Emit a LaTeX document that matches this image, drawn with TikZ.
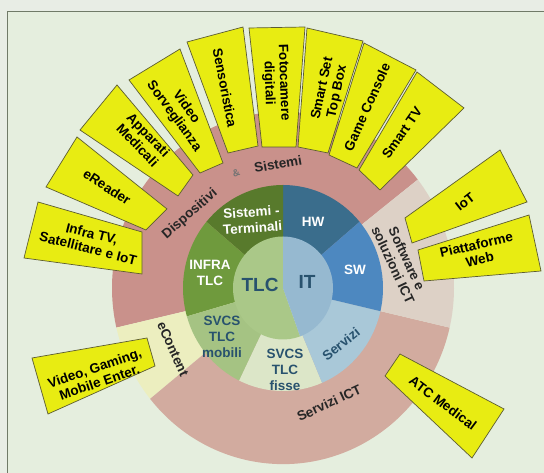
\documentclass[tikz,border=0pt]{standalone}
\usepackage{fontspec}
\setmainfont{Liberation Sans}
\usepackage{xcolor}
\usepackage{tikz}
\usetikzlibrary{positioning,calc}
\definecolor{outerbg}{RGB}{232,237,229}
\definecolor{pagebg}{RGB}{229,238,222}
\definecolor{framegray}{RGB}{112,122,104}
\definecolor{boxyellow}{RGB}{232,236,18}
\definecolor{boxedge}{RGB}{92,92,50}
\definecolor{dispPink}{RGB}{201,145,139}
\definecolor{servPink}{RGB}{210,171,159}
\definecolor{softBeige}{RGB}{221,209,198}
\definecolor{contYellow}{RGB}{236,238,191}
\definecolor{termGreen}{RGB}{88,122,44}
\definecolor{infraGreen}{RGB}{111,154,61}
\definecolor{mobGreen}{RGB}{165,195,131}
\definecolor{fisseGreen}{RGB}{220,230,200}
\definecolor{tlcGreen}{RGB}{170,200,136}
\definecolor{hwBlue}{RGB}{58,109,140}
\definecolor{swBlue}{RGB}{77,136,192}
\definecolor{servBlue}{RGB}{169,200,216}
\definecolor{itBlue}{RGB}{150,185,208}
\definecolor{txtBlue}{RGB}{40,82,110}
\newcommand{\ringsector}[4]{\fill[#1] (0,0) -- (#2:#4) arc[start angle=#2,end angle=#3,radius=#4] -- cycle;}

\begin{document}
\begin{tikzpicture}[x=1pt,y=1pt,
    box/.style={fill=boxyellow,draw=boxedge,line width=0.7pt},
    boxlbl/.style={font=\fontsize{13.5}{15}\selectfont\bfseries,align=center,inner sep=0pt,text=black},
    ringlbl/.style={font=\fontsize{13.5}{15}\selectfont\bfseries,align=center,inner sep=0pt,text=black!85},
    seclbl/.style={font=\fontsize{13.5}{16}\selectfont\bfseries,align=center,inner sep=0pt,text=white},
    seclbldark/.style={seclbl,text=txtBlue},
    corelbl/.style={font=\fontsize{19}{20}\selectfont\bfseries,inner sep=0pt,text=txtBlue}
  ]
  \useasboundingbox (0,0) rectangle (544,473);
  \clip (0,0) rectangle (544,473);
  \fill[outerbg] (0,0) rectangle (544,473);
  \fill[pagebg] (7.5,0) rectangle (544,461.5);
  \draw[framegray,line width=1.4pt] (7.5,-2) -- (7.5,461.5) -- (546,461.5);

  \begin{scope}[shift={(283,185)},yscale=1.03]
    \ringsector{dispPink}{38}{193}{171}
    \ringsector{contYellow}{193}{219}{171}
    \ringsector{servPink}{219}{347}{171}
    \ringsector{softBeige}{347}{398}{171}
    \ringsector{hwBlue}{40}{90}{100}
    \ringsector{termGreen}{90}{140}{100}
    \ringsector{infraGreen}{140}{196}{100}
    \ringsector{mobGreen}{196}{244}{100}
    \ringsector{fisseGreen}{244}{293}{100}
    \ringsector{servBlue}{293}{347}{100}
    \ringsector{swBlue}{347}{400}{100}
    \ringsector{tlcGreen}{90}{290}{50}
    \ringsector{itBlue}{290}{450}{50}
  \end{scope}

  \draw[box] (38,271) -- (142,241) -- (142,199) -- (24,215) -- cycle;
  \draw[box] (46,286) -- (77,336) -- (167,264) -- (146,243) -- cycle;
  \draw[box] (80,343) -- (117,388) -- (193,298) -- (178,277) -- cycle;
  \draw[box] (129,393) -- (180,424) -- (223,310) -- (200,300) -- cycle;
  \draw[box] (187,431) -- (243,446) -- (258,327) -- (228,320) -- cycle;
  \draw[box] (249,445) -- (305,446) -- (296,326) -- (262,326) -- cycle;
  \draw[box] (307,445) -- (363,432) -- (328,320) -- (298,326) -- cycle;
  \draw[box] (364,430) -- (416,403) -- (357,305) -- (329,318) -- cycle;
  \draw[box] (417,401) -- (464,365) -- (380,283) -- (359,303) -- cycle;
  \draw[box] (405,255) -- (500,323) -- (527,271) -- (412,230) -- cycle;
  \draw[box] (418,223) -- (529,258) -- (541,202) -- (424,192) -- cycle;
  \draw[box] (32,115) -- (147,135) -- (155,107) -- (48,59) -- cycle;
  \draw[box] (385,97) -- (400,119) -- (504,64) -- (472,15) -- cycle;

  \node[boxlbl,rotate=-14] (infratv) at (90,232) {Infra TV,\\Satellitare e IoT};
  \node[boxlbl,rotate=-33] (ereader) at (107,286) {eReader};
  \node[boxlbl,rotate=-46] (apparati) at (143,333) {Apparati\\Medicali};
  \node[boxlbl,rotate=-54] (videosorv) at (180,361) {Video\\Sorveglianza};
  \node[boxlbl,rotate=-79] (sensori) at (225,385) {Sensoristica};
  \node[boxlbl,rotate=-88] (fotocam) at (276,390) {Fotocamere\\digitali};
  \node[boxlbl,rotate=78] (settop) at (330,383) {Smart Set\\Top Box};
  \node[boxlbl,rotate=66] (console) at (367,366) {Game Console};
  \node[boxlbl,rotate=55] (smarttv) at (402,340) {Smart TV};
  \node[boxlbl,rotate=38] (iot) at (465,271) {IoT};
  \node[boxlbl,rotate=13] (piatt) at (478,221) {Piattaforme\\Web};
  \node[boxlbl,rotate=19] (gaming) at (97,98) {Video, Gaming,\\Mobile Enter.};
  \node[boxlbl,rotate=-37] (atc) at (443,70) {ATC Medical};

  \node[ringlbl,rotate=41] (dispo) at (190,259) {Dispositivi};
  \node[ringlbl,rotate=20,font=\fontsize{10}{12}\selectfont\bfseries,text=black!55] (amp) at (236,300) {\&};
  \node[ringlbl,rotate=10] (sistemi) at (278,309) {Sistemi};
  \node[ringlbl,rotate=-65] (software) at (400,211) {Software e\\soluzioni ICT};
  \node[ringlbl,rotate=25] (servict) at (329,70) {Servizi ICT};
  \node[ringlbl,rotate=-66] (econt) at (173,124) {eContent};

  \node[seclbl,rotate=4] (termin) at (252,253) {Sistemi -\\Terminali};
  \node[seclbl] (hw) at (313,251) {HW};
  \node[seclbl] (sw) at (355,203) {SW};
  \node[seclbldark,rotate=39] (servizi) at (341,129) {Servizi};
  \node[seclbl] (infratlc) at (210,200) {INFRA\\TLC};
  \node[seclbldark] (mobili) at (222,136) {SVCS\\TLC\\mobili};
  \node[seclbldark] (fisse) at (285,103) {SVCS\\TLC\\fisse};
  \node[corelbl] (tlc) at (260,188) {TLC};
  \node[corelbl] (it) at (307,191) {IT};
\end{tikzpicture}
\end{document}
